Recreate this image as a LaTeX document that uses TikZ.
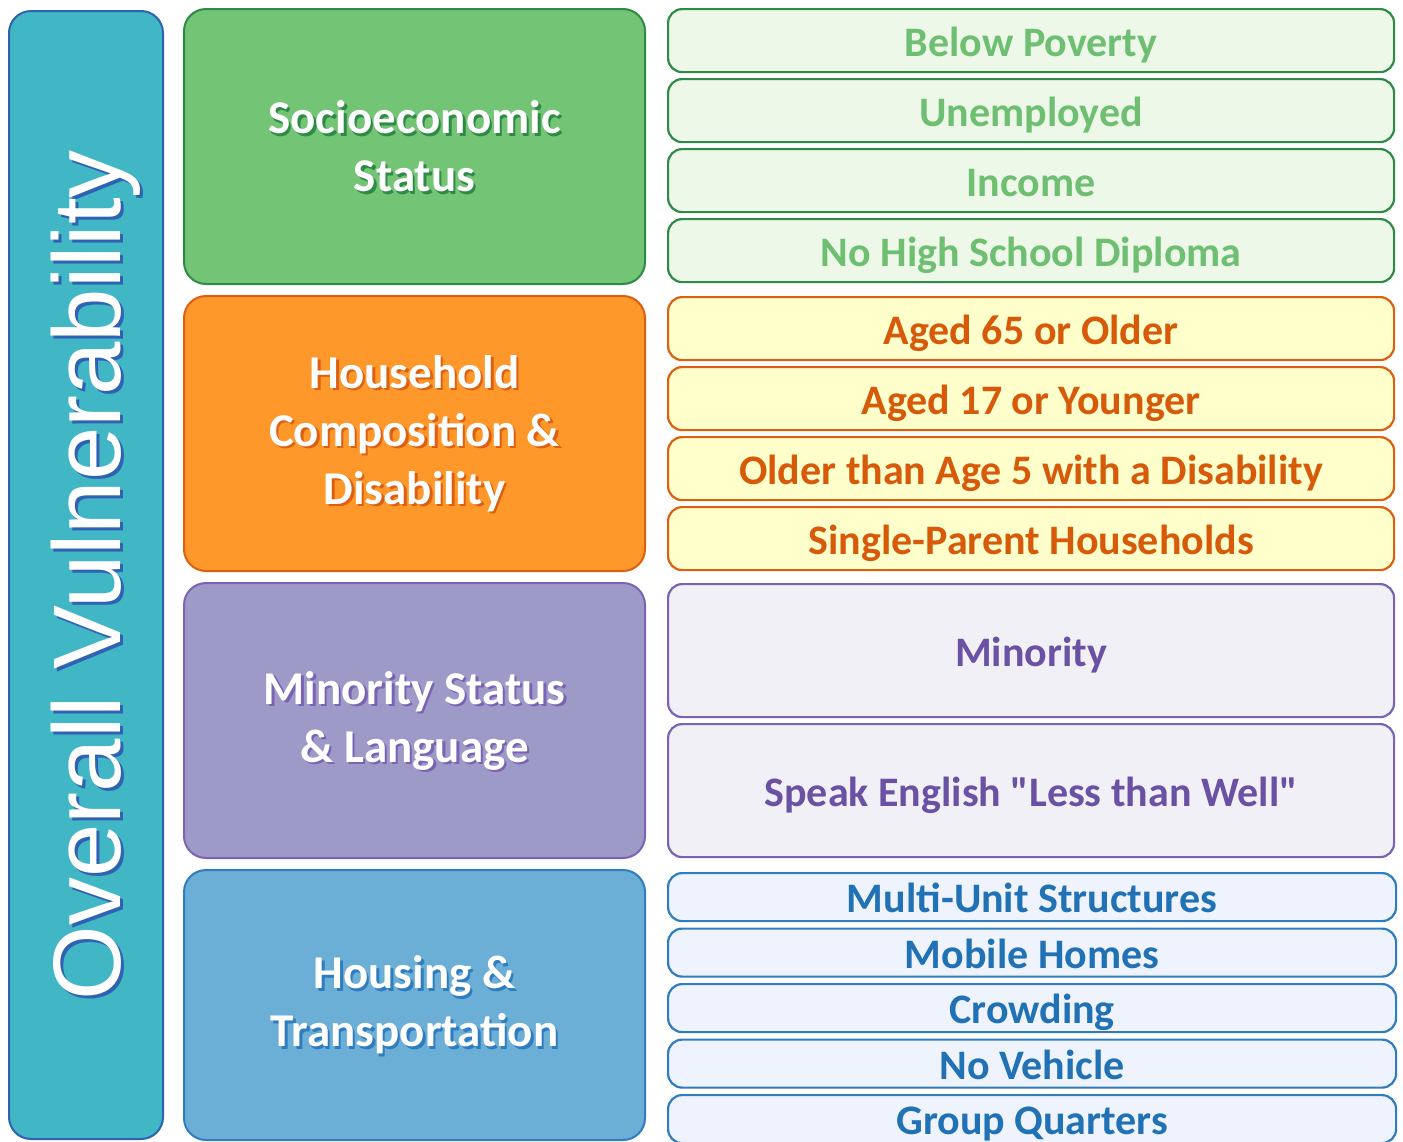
\documentclass[tikz,border=0pt]{standalone}
\usepackage{fontspec}
\setmainfont{Carlito}
\newfontfamily\itemfont{Carlito}
\newfontfamily\barfont{Liberation Sans}
\usetikzlibrary{positioning}

\definecolor{barfill}{HTML}{41B6C4}
\definecolor{barline}{HTML}{2F62B2}
\definecolor{segfill}{HTML}{74C476}
\definecolor{segline}{HTML}{2E8B45}
\definecolor{segitem}{HTML}{EDF8E9}
\definecolor{segtext}{HTML}{6FBF73}
\definecolor{hhfill}{HTML}{FE982B}
\definecolor{hhline}{HTML}{DD5F10}
\definecolor{hhitem}{HTML}{FFFFCC}
\definecolor{hhtext}{HTML}{D65A0A}
\definecolor{minfill}{HTML}{9E9AC8}
\definecolor{minline}{HTML}{7B62B5}
\definecolor{minitem}{HTML}{F1F0F6}
\definecolor{mintext}{HTML}{6A51A3}
\definecolor{houfill}{HTML}{6BAED6}
\definecolor{houline}{HTML}{2F7CC0}
\definecolor{houitem}{HTML}{EEF3FD}
\definecolor{houtext}{HTML}{2171B5}

% white text with a coloured drop shadow
\newcommand{\shadowlabel}[3]{%
\node[catlabel,text=#2] at ([shift={(2.5,2.5)}]#1.center) {#3};
\node[catlabel] at (#1.center) {#3};}

\begin{document}
\begin{tikzpicture}[x=1pt,y=-1pt]
\tikzset{catbox/.style={draw,rounded corners=22pt,line width=2pt,inner sep=0pt,
  minimum width=461pt,minimum height=275pt,anchor=north west}}
\tikzset{catlabel/.style={align=center,text=white,
  font=\fontsize{47}{58}\selectfont\bfseries}}
\tikzset{itembox/.style={draw,rounded corners=14pt,line width=2.2pt,inner sep=0pt,
  text height=32pt,text depth=1pt,
  minimum width=726pt,font=\itemfont\fontsize{42}{48}\selectfont\bfseries}}
\tikzset{node distance=4.8pt}
\useasboundingbox (0,0) rectangle (1403,1141);

% overall bar
\node[draw=barline,fill=barfill,rounded corners=22pt,line width=2pt,
  minimum width=154pt,minimum height=1128pt,anchor=north west] (bar) at (8,10) {};
\node[rotate=90,text=barline,font=\barfont\fontsize{96}{100}\selectfont]
  at (99,578) {Overall Vulnerability};
\node[rotate=90,text=white,font=\barfont\fontsize{96}{100}\selectfont]
  at (96,575) {Overall Vulnerability};

% themes
\node[catbox,draw=segline,fill=segfill] (ses) at (183,8) {};
\node[catbox,draw=hhline,fill=hhfill] (hh) at (183,295) {};
\node[catbox,draw=minline,fill=minfill] (mino) at (183,582) {};
\node[catbox,draw=houline,fill=houfill,minimum height=270pt] (hou) at (183,869) {};
\shadowlabel{ses}{segline}{Socioeconomic\\Status}
\shadowlabel{hh}{hhline}{Household\\Composition \&\\Disability}
\shadowlabel{mino}{minline}{Minority Status\\\& Language}
\shadowlabel{hou}{houline}{Housing \&\\Transportation}

% socioeconomic variables
\tikzset{sesitem/.style={itembox,draw=segline,fill=segitem,text=segtext,minimum height=63pt}}
\node[sesitem,anchor=north west] (pov) at (667,8) {Below Poverty};
\node[sesitem,below=of pov] (unemp) {Unemployed};
\node[sesitem,below=of unemp] (inc) {Income};
\node[sesitem,below=of inc] (nohs) {No High School Diploma};

% household variables
\tikzset{hhitembox/.style={itembox,draw=hhline,fill=hhitem,text=hhtext,minimum height=63pt}}
\node[hhitembox,anchor=north west] (age65) at (667,296) {Aged 65 or Older};
\node[hhitembox,below=of age65] (age17) {Aged 17 or Younger};
\node[hhitembox,below=of age17] (disab) {Older than Age 5 with a Disability};
\node[hhitembox,below=of disab] (single) {Single-Parent Households};

% minority variables
\tikzset{minitembox/.style={itembox,draw=minline,fill=minitem,text=mintext,minimum height=133pt}}
\node[minitembox,anchor=north west] (minor) at (667,583) {Minority};
\node[minitembox,below=of minor] (engl) {Speak English "Less than Well"};

% housing variables
\tikzset{houitembox/.style={itembox,draw=houline,fill=houitem,text=houtext,
  minimum height=48pt,minimum width=728pt,node distance=5.3pt}}
\node[houitembox,anchor=north west] (multi) at (667,872) {Multi-Unit Structures};
\node[houitembox,below=of multi] (mobile) {Mobile Homes};
\node[houitembox,below=of mobile] (crowd) {Crowding};
\node[houitembox,below=of crowd] (noveh) {No Vehicle};
\node[houitembox,below=of noveh] (group) {Group Quarters};
\end{tikzpicture}
\end{document}
